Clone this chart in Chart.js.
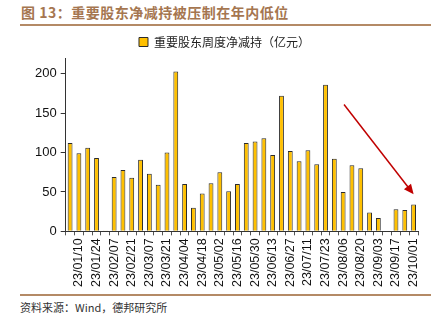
<!DOCTYPE html>
<html>
<head>
<meta charset="utf-8">
<script src="https://cdn.jsdelivr.net/npm/chart.js@4"></script>
<style>
  body { margin: 0; background: #fff; }
  #wrap { position: relative; width: 446px; height: 323px; }
  #title { position: absolute; left: 21px; top: 2px; font: bold 14px "Noto Sans CJK SC"; color: #a57650; letter-spacing: 0.5px; }
  .rule { position: absolute; left: 20px; width: 411px; height: 2px; background: #b48a66; }
  #src { position: absolute; left: 20px; top: 299px; font: 11px "Noto Sans CJK SC"; color: #333; }
  #chartBox { position: absolute; left: 0; top: 31px; width: 446px; height: 263px; }
</style>
</head>
<body>
<div id="wrap">
  <div id="title">图 13：重要股东净减持被压制在年内低位</div>
  <div class="rule" style="top:24px"></div>
  <div id="chartBox"><canvas id="c"></canvas></div>
  <div class="rule" style="top:294px;height:1.5px"></div>
  <div id="src">资料来源：Wind，德邦研究所</div>
</div>
<script>
const weeks = [
  "23/01/03","23/01/10","23/01/17","23/01/24","23/01/31","23/02/07","23/02/14","23/02/21",
  "23/02/28","23/03/07","23/03/14","23/03/21","23/03/28","23/04/04","23/04/11","23/04/18",
  "23/04/25","23/05/02","23/05/09","23/05/16","23/05/23","23/05/30","23/06/06","23/06/13",
  "23/06/20","23/06/27","23/07/04","23/07/11","23/07/16","23/07/23","23/07/30","23/08/06",
  "23/08/13","23/08/20","23/08/27","23/09/03","23/09/10","23/09/17","23/09/24","23/10/01"
];
const netSell = [
  112, 99, 106, 93, 0.5, 69, 78, 68, 91, 73,
  59, 100, 203, 60, 30, 48, 61, 75, 51, 60,
  112, 114, 118, 97, 172, 102, 89, 103, 85, 186,
  92, 50, 84, 80, 24, 17, -2, 28, 27, 34
];
const seriesName = "重要股东周度净减持（亿元）";
const yTicks = [0, 50, 100, 150, 200];

const arrowPlugin = {
  id: "arrow",
  afterDatasetsDraw(chart) {
    const x = chart.scales.x, y = chart.scales.y, ctx = chart.ctx;
    const x0 = x.getPixelForValue(31.1), y0 = y.getPixelForValue(161);
    const x1 = x.getPixelForValue(39), y1 = y.getPixelForValue(47);
    const ang = Math.atan2(y1 - y0, x1 - x0);
    ctx.save();
    ctx.strokeStyle = "#c00000";
    ctx.fillStyle = "#c00000";
    ctx.lineWidth = 1.5;
    ctx.beginPath();
    ctx.moveTo(x0, y0);
    ctx.lineTo(x1 - 6 * Math.cos(ang), y1 - 6 * Math.sin(ang));
    ctx.stroke();
    ctx.beginPath();
    ctx.moveTo(x1, y1);
    ctx.lineTo(x1 - 10 * Math.cos(ang) + 4.5 * Math.sin(ang), y1 - 10 * Math.sin(ang) - 4.5 * Math.cos(ang));
    ctx.lineTo(x1 - 10 * Math.cos(ang) - 4.5 * Math.sin(ang), y1 - 10 * Math.sin(ang) + 4.5 * Math.cos(ang));
    ctx.closePath();
    ctx.fill();
    ctx.restore();
  }
};

new Chart(document.getElementById("c"), {
  type: "bar",
  data: {
    labels: weeks,
    datasets: [{
      label: seriesName,
      data: netSell,
      backgroundColor: "#ffc000",
      borderColor: "#2b2b2b",
      borderWidth: 1,
      barPercentage: 0.55,
      categoryPercentage: 1.0
    }]
  },
  options: {
    responsive: true,
    maintainAspectRatio: false,
    animation: false,
    layout: { padding: { left: 31, right: 28, top: 0, bottom: 4 } },
    plugins: {
      legend: {
        labels: {
          boxWidth: 9, boxHeight: 9, padding: 5,
          color: "#222",
          font: { family: "Noto Sans CJK SC", size: 12 }
        }
      },
      tooltip: { enabled: false }
    },
    scales: {
      x: {
        grid: { display: true, drawOnChartArea: false, tickLength: 4, color: "#555" },
        border: { color: "#333" },
        ticks: {
          autoSkip: false,
          maxRotation: 90, minRotation: 90,
          color: "#111",
          font: { family: "Liberation Sans", size: 12.5 },
          padding: 3,
          callback: (v, i) => (i % 2 === 1 ? weeks[i] : "")
        }
      },
      y: {
        min: 0, max: 220,
        afterBuildTicks: (s) => { s.ticks = yTicks.map(v => ({ value: v })); },
        grid: { display: true, drawOnChartArea: false, tickLength: 5, color: "#333" },
        border: { color: "#333" },
        ticks: {
          color: "#111",
          font: { family: "Liberation Sans", size: 13 },
          padding: 4
        }
      }
    }
  },
  plugins: [arrowPlugin]
});
</script>
</body>
</html>
